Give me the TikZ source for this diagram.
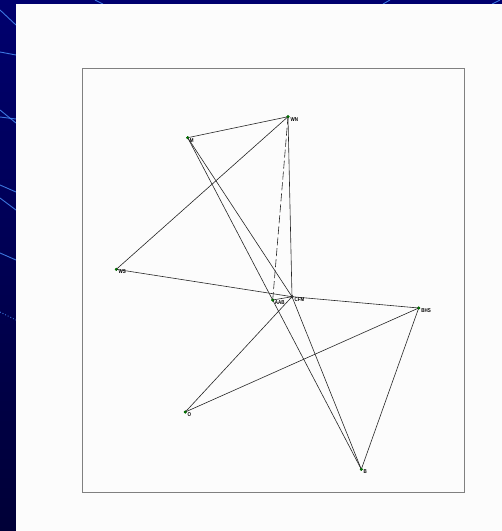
\documentclass[tikz,border=0pt]{standalone}
\usepackage{fontspec}
\setmainfont{Liberation Sans}
\begin{document}
\begin{tikzpicture}[x=1pt,y=-1pt,
  vtx/.style={circle,fill=green!50!black,draw=green!30!black,inner sep=0pt,minimum size=2.6pt},
  lbl/.style={font=\fontsize{5.6}{6}\selectfont\bfseries,text=black,inner sep=0pt,anchor=north west,xscale=0.8},
  edge/.style={draw=black!85,line width=0.6pt},
  deco/.style={draw=blue!60!cyan!70!white,line width=0.9pt,opacity=0.8}]
\definecolor{navytop}{RGB}{0,0,110}
\definecolor{navybot}{RGB}{0,0,55}
\useasboundingbox (0,0) rectangle (502,531);
\shade[top color=navytop,bottom color=navybot] (0,0) rectangle (502,531);
% decorative lines on background
\draw[deco] (0,10) -- (16,25);
\draw[deco] (0,52) -- (16,55);
\draw[deco] (0,110) -- (16,123);
\draw[deco] (0,117) -- (16,119);
\draw[deco] (0,185) -- (16,192);
\draw[deco] (0,198) -- (16,210);
\draw[deco] (0,253) -- (16,260);
\draw[deco,dotted] (0,312) -- (16,320);
\draw[deco] (95,0) -- (103,4);
\draw[deco] (383,4) -- (390,0);
\draw[deco] (492,4) -- (500,0);
% white panel
\fill[white!98!gray] (16,4) rectangle (502,531);
% frame
\draw[gray,line width=0.9pt] (82.7,68.7) rectangle (464,492);
% vertices
\node[vtx] (WN) at (288,116.7) {};
\node[vtx] (M) at (187.7,137.7) {};
\node[vtx] (WS) at (116.3,269.3) {};
\node[vtx] (AAB) at (272.7,300) {};
\node[vtx,fill=black!70,draw=black] (CFM) at (292,296.7) {};
\node[vtx] (BHS) at (418.7,308) {};
\node[vtx] (O) at (185.3,412) {};
\node[vtx] (B) at (361.3,469.3) {};
% labels
\node[lbl] (lWN) at ([xshift=1pt,yshift=-0.5pt]WN.east) {WN};
\node[lbl] (lM) at ([xshift=0.4pt,yshift=-0.4pt]M.east) {M};
\node[lbl] (lWS) at ([xshift=0.6pt,yshift=-0.4pt]WS.east) {WS};
\node[lbl] (lAAB) at ([xshift=0.6pt,yshift=-0.4pt]AAB.east) {AAB};
\node[lbl] (lCFM) at ([xshift=1pt,yshift=-0.4pt]CFM.east) {CFM};
\node[lbl] (lBHS) at ([xshift=1pt,yshift=-0.4pt]BHS.east) {BHS};
\node[lbl] (lO) at ([xshift=0.6pt,yshift=-0.4pt]O.east) {O};
\node[lbl] (lB) at ([xshift=0.6pt,yshift=-0.4pt]B.east) {B};
% edges
\draw[edge] (M.center) -- (WN.center);
\draw[edge] (WN.center) -- (WS.center);
\draw[edge] (WN.center) -- (CFM.center);
\draw[edge,dash pattern=on 8pt off 3pt] (WN.center) -- (AAB.center);
\draw[edge] (M.center) -- (CFM.center);
\draw[edge] (M.center) -- (B.center);
\draw[edge] (CFM.center) -- (B.center);
\draw[edge] (WS.center) -- (CFM.center);
\draw[edge] (AAB.center) -- (CFM.center);
\draw[edge] (CFM.center) -- (BHS.center);
\draw[edge] (O.center) -- (CFM.center);
\draw[edge] (O.center) -- (BHS.center);
\draw[edge] (BHS.center) -- (B.center);
% redraw vertices on top
\foreach \v in {WN,M,WS,AAB,BHS,O,B}
  \fill[green!45!black] (\v) circle (1.3pt);
\fill[black!80] (CFM) circle (1.3pt);
\end{tikzpicture}
\end{document}
